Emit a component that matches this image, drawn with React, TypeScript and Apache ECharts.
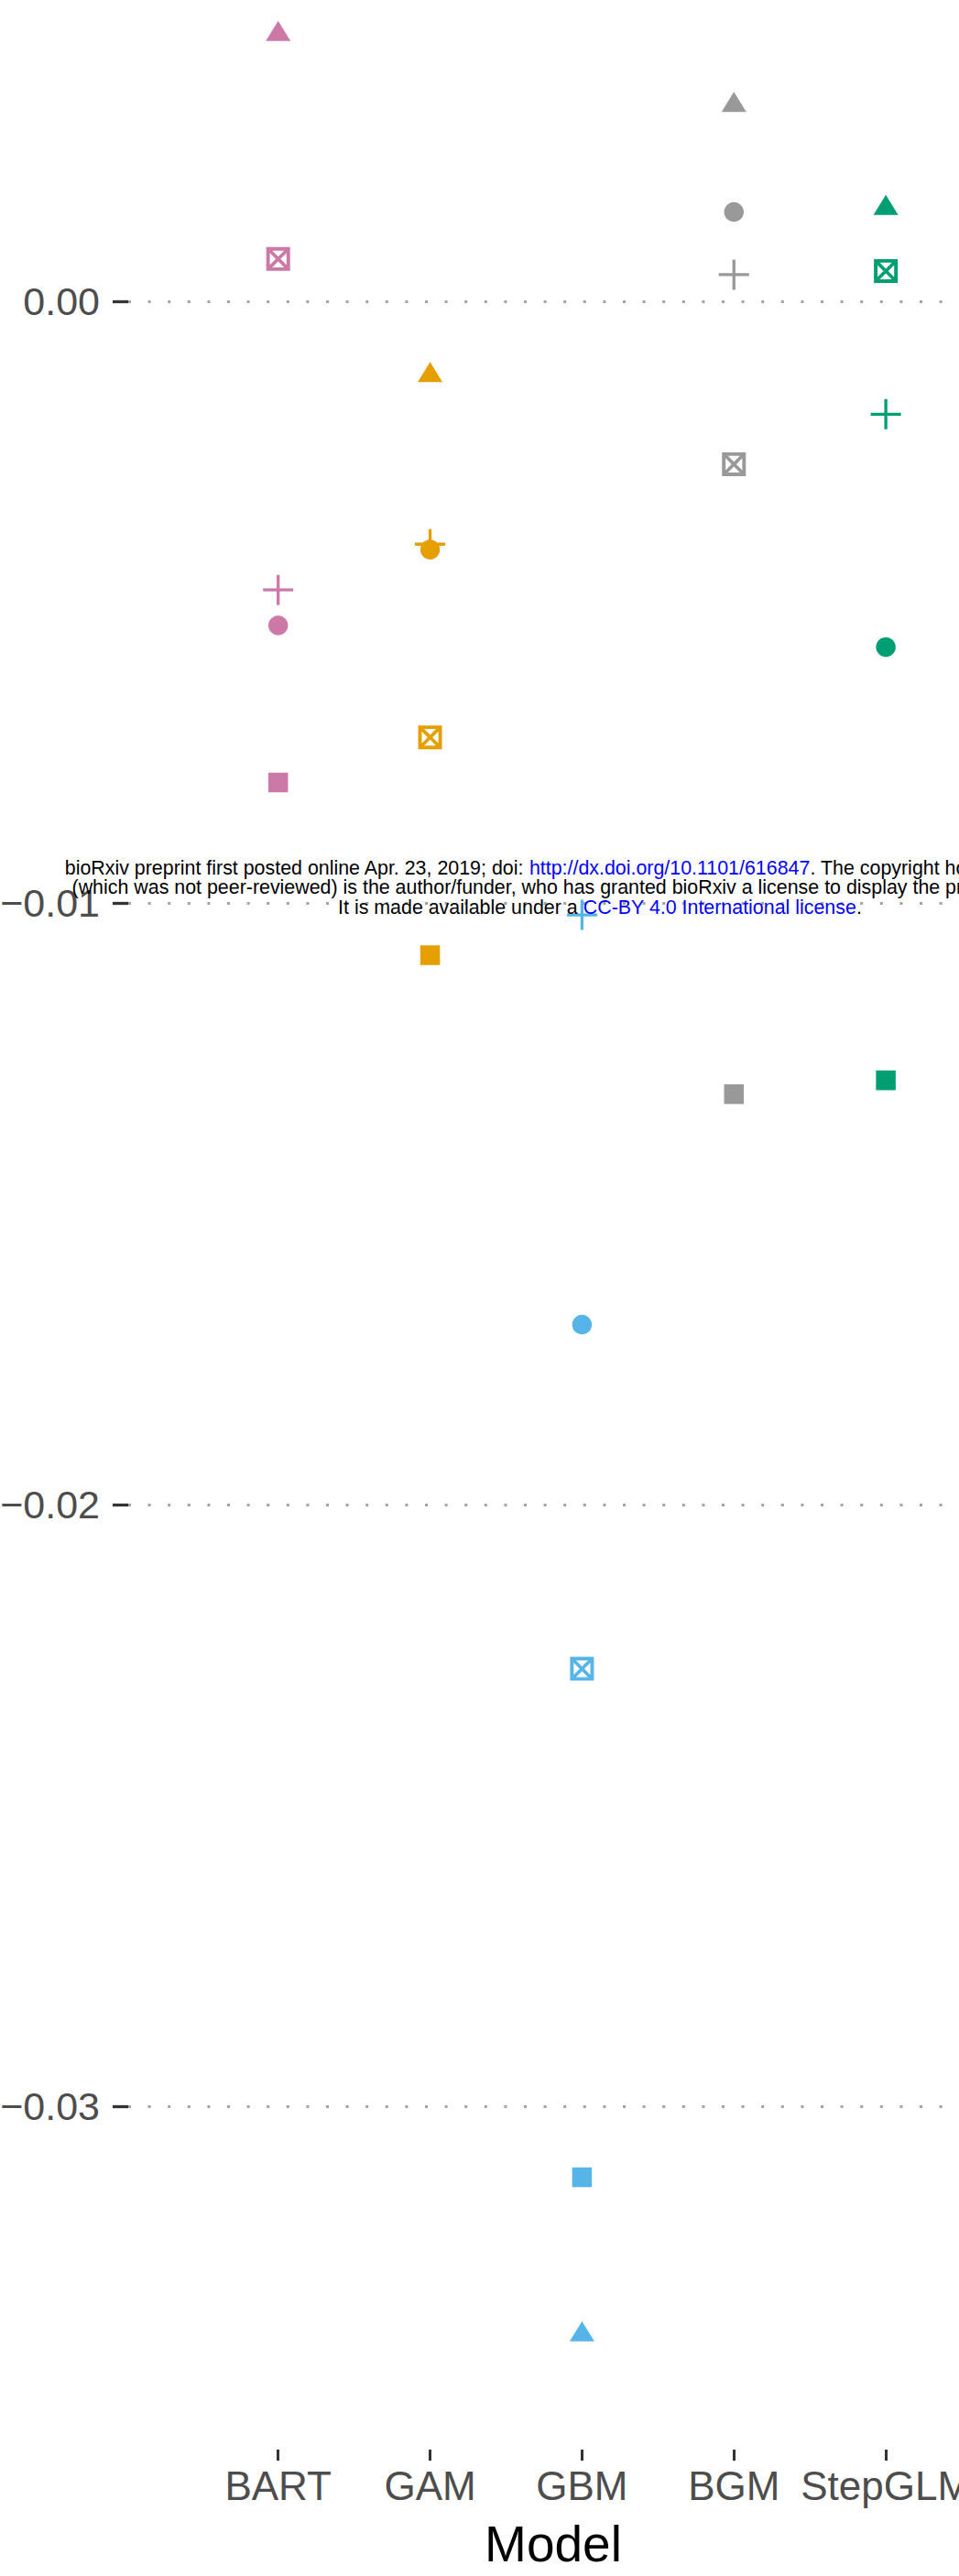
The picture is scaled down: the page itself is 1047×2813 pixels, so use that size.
import React, { useEffect, useRef } from 'react';
import * as echarts from 'echarts';

// ---- data -------------------------------------------------------------
const models = ['BART', 'GAM', 'GBM', 'BGM', 'StepGLM'];
// marker order inside every model array: triangle, circle, plus, boxed cross, filled square
const metricShapes = ['triangle', 'circle', 'plus', 'boxed cross', 'square'];
const bartValues = [0.00449, -0.00539, -0.0048, 0.0007, -0.008];
const gamValues = [-0.00118, -0.00413, -0.00404, -0.00725, -0.01087];
const gbmValues = [-0.03374, -0.01701, -0.0102, -0.02273, -0.03118];
const bgmValues = [0.00331, 0.00148, 0.00044, -0.00271, -0.01318];
const stepglmValues = [0.0016, -0.00575, -0.00188, 0.0005, -0.01295];
const modelValues = [bartValues, gamValues, gbmValues, bgmValues, stepglmValues];

const yTicks = [-0.03, -0.02, -0.01, 0];
const yTickLabels = ['\u22120.03', '\u22120.02', '\u22120.01', '0.00'];
const xTicks = [1, 2, 3, 4, 5];
const xAxisTitle = 'Model';

const noticeLine1a = 'bioRxiv preprint first posted online Apr. 23, 2019; doi: ';
const noticeLine1b = 'http://dx.doi.org/10.1101/616847';
const noticeLine1c = '. The copyright holder for this preprint';
const noticeLine2 =
  '(which was not peer-reviewed) is the author/funder, who has granted bioRxiv a license to display the preprint in perpetuity.';
const noticeLine3a = 'It is made available under a ';
const noticeLine3b = 'CC-BY 4.0 International license';
const noticeLine3c = '.';

// ---- styles -----------------------------------------------------------
const modelColors = ['#CC79A7', '#E69F00', '#56B4E9', '#999999', '#009E73'];
const FONT = "'Liberation Sans', Arial, Helvetica, sans-serif";
const PLUS_PATH = 'path://M45,0H55V45H100V55H55V100H45V55H0V45H45Z';
const BOXX_PATH =
  'path://M0,0H100V100H0Z M24.9,15L50,40.1L75.1,15Z M24.9,85L75.1,85L50,59.9Z M15,24.9L15,75.1L40.1,50Z M85,24.9L59.9,50L85,75.1Z';
const shapeSymbols: Record<string, string> = {
  triangle: 'triangle',
  circle: 'circle',
  plus: PLUS_PATH,
  'boxed cross': BOXX_PATH,
  square: 'rect',
};
const shapeSizes: Record<string, number[]> = {
  triangle: [27, 22],
  circle: [21.5, 21.5],
  plus: [33, 33],
  'boxed cross': [26, 26],
  square: [21.5, 21.5],
};

const GRID_LEFT = 140;
const GRID_RIGHT = -21;
const GRID_TOP = 0;
const GRID_BOTTOM = 138;
const X_MIN = 0.013;
const X_MAX = 5.6083;
const Y_MIN = -0.035706;
const Y_MAX = 0.005004;

function richNotice(parts: [string, string][]) {
  return parts.map(([k, t]) => `{${k}|${t}}`).join('');
}

export default function App() {
  const ref = useRef<HTMLDivElement>(null);

  useEffect(() => {
    if (!ref.current) return;
    const chart = echarts.init(ref.current, undefined, { renderer: 'svg' });

    const series = models.map((m, i) => ({
      type: 'scatter',
      name: m,
      itemStyle: { color: modelColors[i], opacity: 1 },
      emphasis: { disabled: true },
      data: modelValues[i].map((v, k) => ({
        name: metricShapes[k],
        value: [i + 1, v],
        symbol: shapeSymbols[metricShapes[k]],
        symbolSize: shapeSizes[metricShapes[k]],
      })),
    }));

    const richStyles = {
      k: { fill: '#000000', color: '#000000', fontSize: 21.4, fontFamily: FONT },
      u: { fill: '#0000ff', color: '#0000ff', fontSize: 21.4, fontFamily: FONT },
    };

    const option: any = {
      animation: false,
      backgroundColor: '#ffffff',
      grid: {
        left: GRID_LEFT,
        right: GRID_RIGHT,
        top: GRID_TOP,
        bottom: GRID_BOTTOM,
        containLabel: false,
        outerBoundsMode: 'none',
      },
      xAxis: {
        type: 'value',
        min: X_MIN,
        max: X_MAX,
        position: 'bottom',
        axisLine: { show: false, onZero: false },
        splitLine: { show: false },
        axisTick: {
          show: true,
          length: 12,
          customValues: xTicks,
          lineStyle: { color: '#333333', width: 3 },
        },
        axisLabel: {
          show: true,
          customValues: xTicks,
          margin: 17,
          fontSize: 44,
          fontFamily: FONT,
          color: '#4D4D4D',
          formatter: (v: number) => models[Math.round(v) - 1] ?? '',
        },
        name: xAxisTitle,
        nameLocation: 'middle',
        nameGap: 75,
        nameTextStyle: { fontSize: 55, fontFamily: FONT, color: '#000000' },
      },
      yAxis: {
        type: 'value',
        min: Y_MIN,
        max: Y_MAX,
        axisLine: { show: false, onZero: false },
        axisTick: {
          show: true,
          length: 17,
          customValues: yTicks,
          lineStyle: { color: '#333333', width: 3.3 },
        },
        axisLabel: {
          show: true,
          customValues: yTicks,
          margin: 31,
          fontSize: 43,
          fontFamily: FONT,
          color: '#4D4D4D',
          formatter: (v: number) => {
            const idx = yTicks.findIndex((t) => Math.abs(t - v) < 1e-9);
            return idx >= 0 ? yTickLabels[idx] : '';
          },
        },
        splitLine: {
          show: true,
          lineStyle: { type: [3, 18.6], width: 3, color: '#a3a3a3', cap: 'butt' },
        },
      },
      series,
      graphic: {
        elements: [
          {
            type: 'text',
            x: 655,
            y: 947.6,
            z: 100,
            style: {
              text: richNotice([
                ['k', noticeLine1a],
                ['u', noticeLine1b],
                ['k', noticeLine1c],
              ]),
              rich: richStyles,
              fontSize: 21.4,
              fontFamily: FONT,
              fill: '#000000',
              align: 'center',
              verticalAlign: 'middle',
            },
          },
          {
            type: 'text',
            x: 655,
            y: 969.1,
            z: 100,
            style: {
              text: noticeLine2,
              fontSize: 21.4,
              fontFamily: FONT,
              fill: '#000000',
              align: 'center',
              verticalAlign: 'middle',
            },
          },
          {
            type: 'text',
            x: 655,
            y: 990.6,
            z: 100,
            style: {
              text: richNotice([
                ['k', noticeLine3a],
                ['u', noticeLine3b],
                ['k', noticeLine3c],
              ]),
              rich: richStyles,
              fontSize: 21.4,
              fontFamily: FONT,
              fill: '#000000',
              align: 'center',
              verticalAlign: 'middle',
            },
          },
        ],
      },
    };

    chart.setOption(option);
    return () => chart.dispose();
  }, []);

  return (
    <div
      style={{
        position: 'absolute',
        left: 0,
        top: 0,
        width: 1047,
        height: 2813,
        overflow: 'hidden',
        background: '#ffffff',
      }}
    >
      <div ref={ref} style={{ width: 1047, height: 2813 }} />
    </div>
  );
}
